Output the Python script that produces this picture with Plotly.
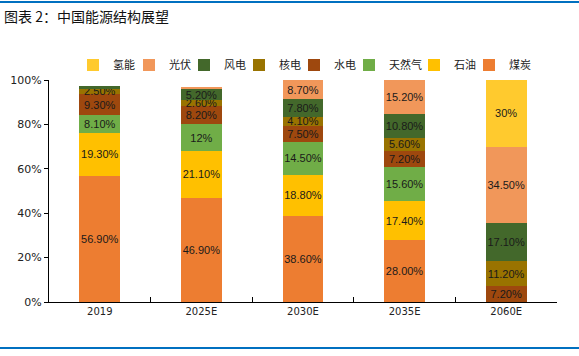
import plotly.graph_objects as go

categories = ["2019", "2025E", "2030E", "2035E", "2060E"]

coal = [56.9, 46.9, 38.6, 28.0, 0]
oil = [19.3, 21.1, 18.8, 17.4, 0]
gas = [8.1, 12.0, 14.5, 15.6, 0]
hydro = [9.3, 8.2, 7.5, 7.2, 7.2]
nuclear = [2.5, 2.6, 4.1, 5.6, 11.2]
wind = [1.0, 5.2, 7.8, 10.8, 17.1]
solar = [0, 1.0, 8.7, 15.2, 34.5]
hydrogen = [0, 0, 0, 0, 30]

coal_lbl = ["56.90%", "46.90%", "38.60%", "28.00%", ""]
oil_lbl = ["19.30%", "21.10%", "18.80%", "17.40%", ""]
gas_lbl = ["8.10%", "12%", "14.50%", "15.60%", ""]
hydro_lbl = ["9.30%", "8.20%", "7.50%", "7.20%", "7.20%"]
nuclear_lbl = ["2.50%", "2.60%", "4.10%", "5.60%", "11.20%"]
wind_lbl = ["", "5.20%", "7.80%", "10.80%", "17.10%"]
solar_lbl = ["", "", "8.70%", "15.20%", "34.50%"]
hydrogen_lbl = ["", "", "", "", "30%"]

series = [
    ("煤炭", coal, coal_lbl, "#ED7D31"),
    ("石油", oil, oil_lbl, "#FFC000"),
    ("天然气", gas, gas_lbl, "#70AD47"),
    ("水电", hydro, hydro_lbl, "#9E480E"),
    ("核电", nuclear, nuclear_lbl, "#997300"),
    ("风电", wind, wind_lbl, "#43682B"),
    ("光伏", solar, solar_lbl, "#F1975A"),
    ("氢能", hydrogen, hydrogen_lbl, "#FFCA2E"),
]

W, H = 579, 356
L, R, T, B = 49, 22, 80, 54
pw, ph = W - L - R, H - T - B

# legend marker centres (px), in legend order 氢能 ... 煤炭
legend_x = [92, 148, 203, 258, 313, 368, 433, 488]
legend_y = 65

def px_x(x):
    return (x - L) / pw

def px_y(y):
    return (H - B - y) / ph

fig = go.Figure()
legend_layout = {}
n = len(series)
for i, (name, vals, lbl, col) in enumerate(series):
    li = n - 1 - i  # legend position index
    lname = "legend" if li == 0 else f"legend{li + 1}"
    fig.add_trace(go.Bar(
        name=name, x=categories, y=vals, text=lbl,
        textposition="inside", insidetextanchor="middle",
        textangle=0, constraintext="none",
        textfont=dict(family="Liberation Sans", size=11, color="#1a1a1a"),
        marker=dict(color=col, line=dict(width=0)),
        hoverinfo="skip", legend=lname, showlegend=True,
    ))
    legend_layout[lname] = dict(
        orientation="h", xref="container", yref="container",
        x=(legend_x[li] - 19) / W, xanchor="left",
        y=1 - legend_y / H, yanchor="middle",
        itemwidth=30, borderwidth=0, visible=True,
        font=dict(family="Noto Sans CJK SC", size=11, color="#222"),
        bgcolor="rgba(0,0,0,0)",
    )

fig.update_layout(
    width=W, height=H, showlegend=True,
    margin=dict(l=L, r=R, t=T, b=B, autoexpand=False),
    barmode="stack", bargap=0.6,
    plot_bgcolor="white", paper_bgcolor="white",
    font=dict(family="DejaVu Sans", size=11, color="#222"),
    title=dict(text="图表 2：中国能源结构展望", xref="container", yref="container",
               x=4 / W, xanchor="left", y=1 - 17 / H, yanchor="middle",
               font=dict(family="Noto Sans CJK SC", size=14, color="#111")),
    xaxis=dict(showline=True, linecolor="black", linewidth=1,
               ticks="inside", ticklen=5, tickcolor="black",
               tickson="boundaries", showgrid=False,
               tickfont=dict(size=10, color="#222")),
    yaxis=dict(range=[0, 100], dtick=20, ticksuffix="%",
               showline=True, linecolor="black", linewidth=1,
               ticks="outside", ticklen=4, tickcolor="black",
               showgrid=False, zeroline=False,
               tickfont=dict(size=11, color="#222")),
    shapes=[
        dict(type="line", xref="paper", yref="paper",
             x0=px_x(0), x1=px_x(W), y0=px_y(2), y1=px_y(2),
             line=dict(color="#0070C0", width=2)),
        dict(type="line", xref="paper", yref="paper",
             x0=px_x(0), x1=px_x(W), y0=px_y(348), y1=px_y(348),
             line=dict(color="#0070C0", width=2)),
    ],
    **legend_layout,
)

fig.write_html("out.html", config={"displayModeBar": False},
               post_script="document.body.style.margin='0';")
